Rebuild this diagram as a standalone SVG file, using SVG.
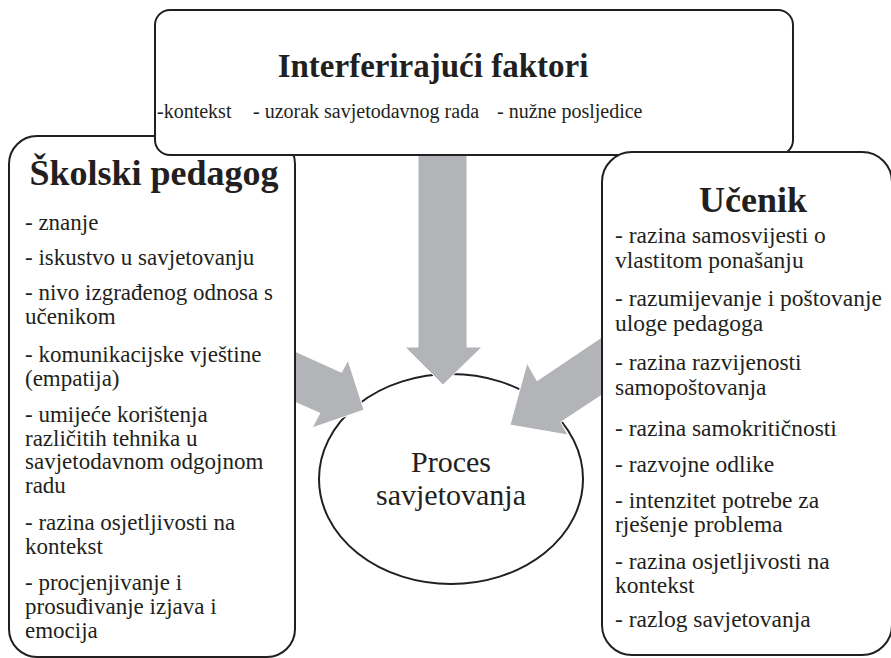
<svg xmlns="http://www.w3.org/2000/svg" width="891" height="658" viewBox="0 0 891 658" xml:lang="hr" font-family="Tinos, 'Liberation Serif', 'Noto Serif', 'DejaVu Serif', serif">
<rect width="891" height="658" fill="#fff"/>
<g id="proces">
<ellipse cx="451" cy="479" rx="132" ry="105" fill="#fff" stroke="#231f20" stroke-width="2"/>
<text x="451" y="472" font-family="Tinos, 'Liberation Serif', 'Noto Serif', serif" font-size="30" fill="#231f20" text-anchor="middle">Proces</text>
<text x="451" y="505" font-family="Tinos, 'Liberation Serif', 'Noto Serif', serif" font-size="30" fill="#231f20" text-anchor="middle">savjetovanja</text>
</g>
<g id="connectors" fill="#b3b4b7" stroke="#fff" stroke-width="1">
<polygon points="418,150 467,150 467,347 482,347 443,385 405,347 418,347"/>
<polygon points="290,349 341.5,372.3 348,360 364,410 312,428 319.8,413.2 290,400"/>
<polygon points="608,333 537,380.7 527,363 510,425 568,435 560.8,422.2 608,391"/>
</g>
<g id="skolski-pedagog" font-family="Tinos, 'Liberation Serif', 'Noto Serif', serif" fill="#231f20">
<rect x="9" y="136" width="286" height="521" rx="28" fill="#fff" stroke="#231f20" stroke-width="2"/>
<text x="154" y="185" font-weight="bold" font-size="36" text-anchor="middle">Školski pedagog</text>
<g font-size="23">
<text x="25" y="230">- znanje</text>
<text x="25" y="265">- iskustvo u savjetovanju</text>
<text x="25" y="300">- nivo izgrađenog odnosa s</text>
<text x="25" y="324">učenikom</text>
<text x="25" y="362">- komunikacijske vještine</text>
<text x="25" y="386">(empatija)</text>
<text x="25" y="422">- umijeće korištenja</text>
<text x="25" y="446">različitih tehnika u</text>
<text x="25" y="469">savjetodavnom odgojnom</text>
<text x="25" y="493">radu</text>
<text x="25" y="530">- razina osjetljivosti na</text>
<text x="25" y="554">kontekst</text>
<text x="25" y="590">- procjenjivanje i</text>
<text x="25" y="614">prosuđivanje izjava i</text>
<text x="25" y="638">emocija</text>
</g>
</g>
<g id="interferirajuci-faktori" font-family="Tinos, 'Liberation Serif', 'Noto Serif', serif" fill="#231f20">
<rect x="155" y="10" width="638" height="145" rx="15" fill="#fff" stroke="#231f20" stroke-width="2"/>
<text x="433" y="77" font-weight="bold" font-size="33" text-anchor="middle">Interferirajući faktori</text>
<g font-size="20">
<text x="157" y="118">-kontekst</text>
<text x="253" y="118">- uzorak savjetodavnog rada</text>
<text x="497" y="118">- nužne posljedice</text>
</g>
</g>
<g id="ucenik" font-family="Tinos, 'Liberation Serif', 'Noto Serif', serif" fill="#231f20">
<rect x="602" y="152" width="290" height="503" rx="30" fill="#fff" stroke="#231f20" stroke-width="2"/>
<text x="753" y="212" font-weight="bold" font-size="36" text-anchor="middle">Učenik</text>
<g font-size="23.5">
<text x="615" y="243">- razina samosvijesti o</text>
<text x="615" y="268">vlastitom ponašanju</text>
<text x="615" y="306">- razumijevanje i poštovanje</text>
<text x="615" y="331">uloge pedagoga</text>
<text x="615" y="370">- razina razvijenosti</text>
<text x="615" y="395">samopoštovanja</text>
<text x="615" y="436">- razina samokritičnosti</text>
<text x="615" y="472">- razvojne odlike</text>
<text x="615" y="508">- intenzitet potrebe za</text>
<text x="615" y="532">rješenje problema</text>
<text x="615" y="569">- razina osjetljivosti na</text>
<text x="615" y="593">kontekst</text>
<text x="615" y="627">- razlog savjetovanja</text>
</g>
</g>
</svg>
